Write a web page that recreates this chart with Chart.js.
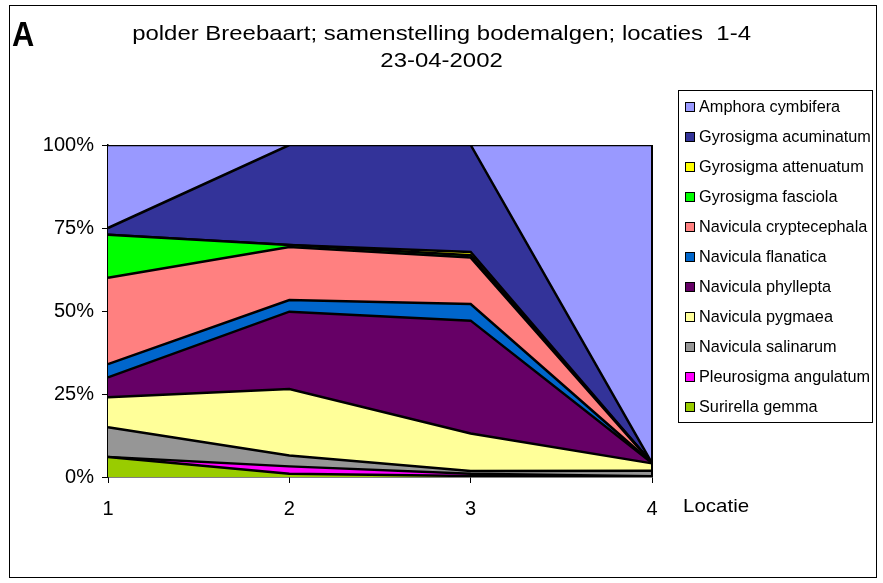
<!DOCTYPE html>
<html>
<head>
<meta charset="utf-8">
<script src="https://cdn.jsdelivr.net/npm/chart.js@4.4.1/dist/chart.umd.min.js"></script>
<style>
  html, body { margin: 0; padding: 0; background: #fff; }
  #wrap { position: relative; width: 883px; height: 583px; font-family: "Liberation Sans", Arial, sans-serif; color: #000; }
  #frame { position: absolute; left: 9px; top: 5px; width: 868px; height: 573px; border: 1px solid #000; box-sizing: border-box; }
  #letter { position: absolute; left: 12px; top: 14px; font-weight: bold; font-size: 35px; line-height: 40px; transform: scaleX(0.88); transform-origin: left top; }
  #title { position: absolute; left: 0; width: 883px; top: 19px; text-align: center; font-size: 21px; line-height: 27px; transform: scaleX(1.14); transform-origin: 441px 0; }
  #xlabel { position: absolute; left: 683px; top: 495px; font-size: 19px; transform: scaleX(1.08); transform-origin: left top; }
  #legend { position: absolute; left: 678px; top: 90px; width: 195px; height: 333px; border: 1px solid #000; box-sizing: border-box; }
  .item { position: absolute; left: 6px; height: 20px; font-size: 16.3px; line-height: 20px; white-space: nowrap; }
  .sw { display: inline-block; width: 8px; height: 8px; border: 1.5px solid #000; margin-right: 4px; vertical-align: 0px; }
  canvas { position: absolute; left: 0; top: 0; }
</style>
</head>
<body>
<div id="wrap">
  <div id="frame"></div>
  <canvas id="c" width="883" height="583"></canvas>
  <div id="letter">A</div>
  <div id="title">polder Breebaart; samenstelling bodemalgen; locaties&nbsp; 1-4<br>23-04-2002</div>
  <div id="xlabel">Locatie</div>
  <div id="legend"></div>
</div>
<script>
// categories
const locaties = ["1", "2", "3", "4"];
const yTicks = [0, 25, 50, 75, 100];

// percentages per location (stack bottom -> top)
const surirellaGemma        = [6,   1,    0.3,  0];
const pleurosigmaAngulatum  = [0,   2.2,  0.7,  0.2];
const naviculaSalinarum     = [9,   3.3,  0.8,  1.7];
const naviculaPygmaea       = [9,   20,   11.3, 2.2];
const naviculaPhyllepta     = [6,   23.3, 34,   0.1];
const naviculaFlanatica     = [4,   3.5,  5,    0];
const naviculaCryptecephala = [26,  16,   14,   0];
const gyrosigmaFasciola     = [13,  0.6,  0.7,  0];
const gyrosigmaAttenuatum   = [0,   0,    1,    0];
const gyrosigmaAcuminatum   = [2,   30.1, 32.2, 0];
const amphoraCymbifera      = [25,  0,    0,    95.8];

// legend order (top of stack first, as in the legend)
const series = [
  { name: "Amphora cymbifera",      data: amphoraCymbifera,      colour: "#9999FF" },
  { name: "Gyrosigma acuminatum",   data: gyrosigmaAcuminatum,   colour: "#333399" },
  { name: "Gyrosigma attenuatum",   data: gyrosigmaAttenuatum,   colour: "#FFFF00" },
  { name: "Gyrosigma fasciola",     data: gyrosigmaFasciola,     colour: "#00FF00" },
  { name: "Navicula cryptecephala", data: naviculaCryptecephala, colour: "#FF8080" },
  { name: "Navicula flanatica",     data: naviculaFlanatica,     colour: "#0066CC" },
  { name: "Navicula phyllepta",     data: naviculaPhyllepta,     colour: "#660066" },
  { name: "Navicula pygmaea",       data: naviculaPygmaea,       colour: "#FFFF99" },
  { name: "Navicula salinarum",     data: naviculaSalinarum,     colour: "#969696" },
  { name: "Pleurosigma angulatum",  data: pleurosigmaAngulatum,  colour: "#FF00FF" },
  { name: "Surirella gemma",        data: surirellaGemma,        colour: "#99CC00" },
];

// legend box
const leg = document.getElementById("legend");
series.forEach((s, i) => {
  const d = document.createElement("div");
  d.className = "item";
  d.style.top = (5 + i * 30) + "px";
  d.innerHTML = `<span class="sw" style="background:${s.colour}"></span>${s.name}`;
  leg.appendChild(d);
});

const datasets = series.slice().reverse().map((s, i) => ({
  label: s.name,
  data: s.data,
  backgroundColor: s.colour,
  borderColor: "#000",
  borderWidth: 2.5,
  pointRadius: 0,
  tension: 0,
  fill: i === 0 ? "origin" : "-1",
}));

const rightEdge = {
  id: "rightEdge",
  afterDatasetsDraw(chart) {
    const a = chart.chartArea, ctx = chart.ctx;
    ctx.save();
    ctx.strokeStyle = "#000";
    ctx.lineWidth = 2;
    ctx.beginPath();
    ctx.moveTo(a.right, a.top);
    ctx.lineTo(a.right, a.bottom);
    ctx.stroke();
    ctx.restore();
  },
};

const tickFont = { family: "Liberation Sans, Arial", size: 20 };

new Chart(document.getElementById("c"), {
  type: "line",
  data: { labels: locaties, datasets },
  plugins: [rightEdge],
  options: {
    responsive: false,
    animation: false,
    layout: { padding: { left: 0, top: 145, right: 231, bottom: 56 } },
    plugins: { legend: { display: false }, title: { display: false }, tooltip: { enabled: false } },
    scales: {
      x: {
        offset: false,
        afterFit: (s) => { s.height = 50; },
        grid: { display: true, drawOnChartArea: false, drawTicks: true, tickLength: 6, color: "#000", lineWidth: 1 },
        border: { display: true, color: "#000", width: 1.5 },
        ticks: { color: "#000", font: tickFont, padding: 14 },
      },
      y: {
        stacked: true,
        min: 0,
        max: 100,
        afterFit: (s) => { s.width = 108; },
        afterBuildTicks: (s) => { s.ticks = yTicks.map((v) => ({ value: v })); },
        grid: { display: true, drawOnChartArea: false, drawTicks: true, tickLength: 6, color: "#000", lineWidth: 1 },
        border: { display: true, color: "#000", width: 1.5 },
        ticks: { color: "#000", font: tickFont, padding: 8, callback: (v) => v + "%" },
      },
    },
  },
});
</script>
</body>
</html>
